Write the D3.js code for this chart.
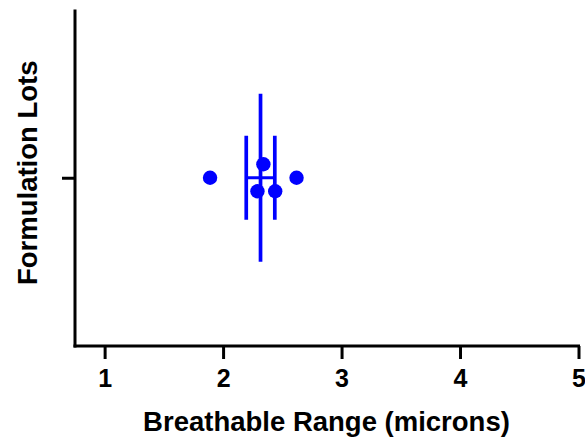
<!DOCTYPE html>
<html>
<head>
<meta charset="utf-8">
<script src="https://cdn.jsdelivr.net/npm/d3@7"></script>
<style>
  html, body { margin: 0; padding: 0; background: #fff; }
  svg { display: block; font-family: "Liberation Sans", Arial, sans-serif; font-weight: bold; }
</style>
</head>
<body>
<script>
// data
const groups = ["Formulation Lots"];
const values = [1.89, 2.34, 2.29, 2.44, 2.62];   // breathable range, microns
const lanes = [0, -1, 1, 1, 0];                 // jitter lane of each point
const xTicks = [1, 2, 3, 4, 5];
const xTitle = "Breathable Range (microns)";

const width = 585, height = 438;
const blue = "#0000ff";

// mean and SEM of the lot values
const mean = d3.mean(values);
const sem = d3.deviation(values) / Math.sqrt(values.length);

const svg = d3.select("body").append("svg")
    .attr("width", width)
    .attr("height", height);

const x = d3.scaleLinear().domain([0.75, 5]).range([75, 578.5]);
const y = d3.scalePoint().domain(groups).range([346, 9.5]).padding(0.5);

// axes
const xAxis = svg.append("g")
    .attr("transform", "translate(0,346)")
    .call(d3.axisBottom(x).tickValues(xTicks).tickFormat(d3.format("d")).tickSize(13).tickSizeOuter(0).tickPadding(10));
xAxis.attr("font-size", null).attr("font-family", null);
xAxis.select(".domain").attr("stroke-width", 3).attr("d", `M${x.range()[0] - 1.5},0H${x.range()[1] + 1.5}`);
xAxis.selectAll(".tick line").attr("stroke-width", 3);
xAxis.selectAll(".tick text")
    .style("font-size", "25px")
    .style("font-weight", "bold")
    .attr("fill", "#000");

const yAxis = svg.append("g")
    .attr("transform", "translate(75,0)")
    .call(d3.axisLeft(y).tickFormat("").tickSize(13).tickSizeOuter(0));
yAxis.select(".domain").attr("stroke-width", 3).attr("d", `M0,${y.range()[0] + 1.5}V${y.range()[1]}`);
yAxis.selectAll(".tick line").attr("stroke-width", 3);

// axis titles
svg.append("text")
    .attr("x", 326.5)
    .attr("y", 431)
    .attr("text-anchor", "middle")
    .style("font-size", "27.5px")
    .text(xTitle);

svg.append("text")
    .attr("transform", `translate(37,${y(groups[0]) - 5}) rotate(-90)`)
    .attr("text-anchor", "middle")
    .style("font-size", "27.5px")
    .text(groups[0]);

// mean line and SEM bars
const cy = y(groups[0]);
const g = svg.append("g").attr("stroke", blue);

g.append("line")
    .attr("x1", x(mean)).attr("x2", x(mean))
    .attr("y1", cy - 84).attr("y2", cy + 84)
    .attr("stroke-width", 3.7);

g.selectAll("line.cap")
    .data([mean - sem, mean + sem])
    .join("line")
    .attr("class", "cap")
    .attr("x1", d => x(d)).attr("x2", d => x(d))
    .attr("y1", cy - 42).attr("y2", cy + 42)
    .attr("stroke-width", 3.7);

g.append("line")
    .attr("x1", x(mean - sem)).attr("x2", x(mean + sem))
    .attr("y1", cy).attr("y2", cy)
    .attr("stroke-width", 3);

// points
svg.append("g")
    .selectAll("circle")
    .data(values)
    .join("circle")
    .attr("cx", d => x(d))
    .attr("cy", (d, i) => cy + lanes[i] * 13.5)
    .attr("r", 7.2)
    .attr("fill", blue);
</script>
</body>
</html>
